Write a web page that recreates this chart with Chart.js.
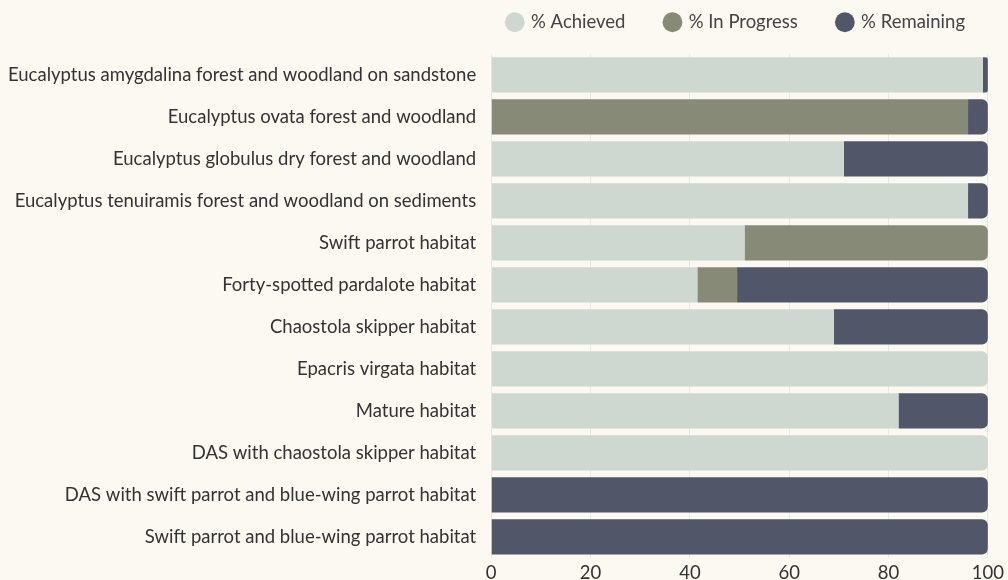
<!DOCTYPE html>
<html><head><meta charset="utf-8">
<script src="https://cdn.jsdelivr.net/npm/chart.js@4/dist/chart.umd.min.js"></script>
<style>
html,body{margin:0;padding:0;background:#fcf8f2;}
#wrap{width:1008px;height:580px;}
</style></head>
<body><div id="wrap"><canvas id="c" width="1008" height="580"></canvas></div>
<script>
const categories = [
  "Eucalyptus amygdalina forest and woodland on sandstone",
  "Eucalyptus ovata forest and woodland",
  "Eucalyptus globulus dry forest and woodland",
  "Eucalyptus tenuiramis forest and woodland on sediments",
  "Swift parrot habitat",
  "Forty-spotted pardalote habitat",
  "Chaostola skipper habitat",
  "Epacris virgata habitat",
  "Mature habitat",
  "DAS with chaostola skipper habitat",
  "DAS with swift parrot and blue-wing parrot habitat",
  "Swift parrot and blue-wing parrot habitat"
];
const achieved   = [99, null, 71, 96, 51, 41.5, 69, 100, 82, 100, null, null];
const inProgress = [null, 96, null, null, 49, 8, null, null, null, null, null, null];
const remaining  = [1, 4, 29, 4, null, 50.5, 31, null, 18, null, 100, 100];
const xTicks = [0, 20, 40, 60, 80, 100];

const FONT = "Lato, 'Open Sans', sans-serif";
const LEG_PAD = 40;

const legendTweak = {
  id: 'legendTweak',
  beforeLayout(chart) {
    const lg = chart.legend;
    if (lg && !lg._patched) {
      const of = lg.fit.bind(lg);
      lg.fit = function () { of(); this.height = 50; };
      lg._patched = true;
    }
  },
  beforeDraw(chart) {
    const lg = chart.legend;
    if (!lg) return;
    lg.top = -27;
    lg.right = 1005;
  }
};

new Chart(document.getElementById('c'), {
  type: 'bar',
  data: {
    labels: categories,
    datasets: [
      {label: '% Achieved', data: achieved, backgroundColor: '#cfd8d0'},
      {label: '% In Progress', data: inProgress, backgroundColor: '#878a77'},
      {label: '% Remaining', data: remaining, backgroundColor: '#515669'}
    ]
  },
  plugins: [legendTweak],
  options: {
    indexAxis: 'y',
    responsive: false,
    animation: false,
    layout: {padding: {left: 1, right: 4, top: 4, bottom: -8}},
    datasets: {bar: {barPercentage: 0.84, categoryPercentage: 1, borderRadius: 6, borderSkipped: 'start'}},
    plugins: {
      legend: {
        position: 'top', align: 'end',
        labels: {usePointStyle: true, pointStyle: 'circle', boxWidth: 14, boxHeight: 14, padding: LEG_PAD,
          color: '#444', font: {family: FONT, size: 18.5}}
      },
      tooltip: {enabled: false}
    },
    scales: {
      x: {
        stacked: true, min: 0, max: 100,
        afterBuildTicks: (s) => { s.ticks = xTicks.map(v => ({value: v})); },
        grid: {color: 'rgba(0,0,0,0.07)', drawTicks: false},
        border: {display: false},
        ticks: {color: '#333', padding: 4, font: {family: FONT, size: 18.5}}
      },
      y: {
        stacked: true,
        grid: {display: false},
        border: {display: false},
        ticks: {color: '#333', padding: 7, font: {family: FONT, size: 18.5}}
      }
    }
  }
});
</script></body></html>
